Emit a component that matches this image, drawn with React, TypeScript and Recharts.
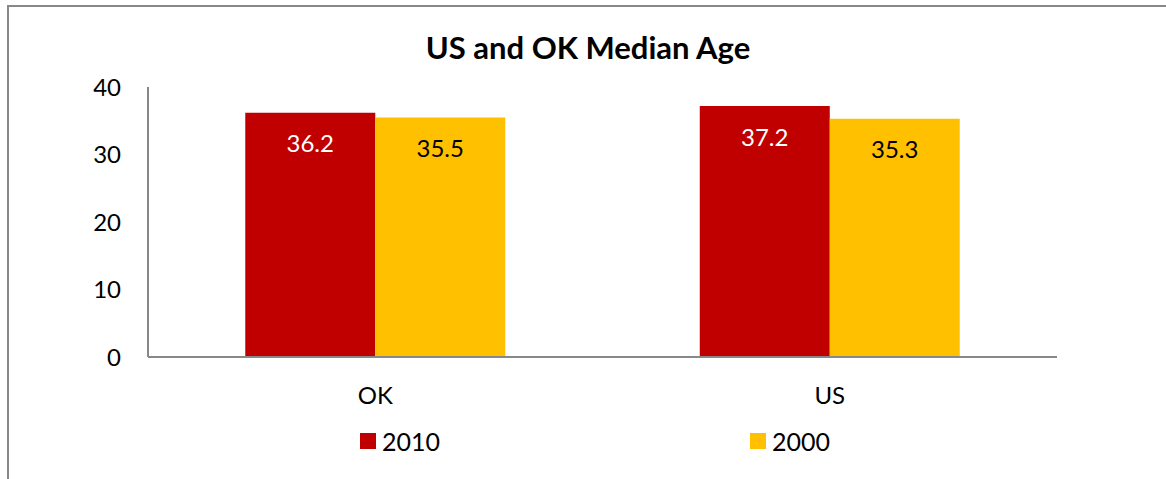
import React from 'react';
import { BarChart, Bar, XAxis, YAxis, LabelList } from 'recharts';

const categories = ['OK', 'US'];
const values2010 = [36.2, 37.2];
const values2000 = [35.5, 35.3];
const yTicks = [0, 10, 20, 30, 40];

const seriesList = [
  { key: 'y2010', name: '2010', color: '#C00000', labelColor: '#fff' },
  { key: 'y2000', name: '2000', color: '#FFC000', labelColor: '#000' },
];

const chartData = categories.map((name, i) => ({
  name,
  y2010: values2010[i],
  y2000: values2000[i],
}));

const FONT = 'Lato, "Open Sans", sans-serif';

const makeLabel = (fill: string) => (props: any) => {
  const { x, y, width, value } = props;
  return (
    <text
      x={x + width / 2}
      y={y + 31}
      dy="0.36em"
      textAnchor="middle"
      fill={fill}
      fontSize={24}
      fontFamily={FONT}
    >
      {value}
    </text>
  );
};

const App: React.FC = () => {
  return (
    <div style={{ position: 'absolute', left: 0, top: 0, width: 1166, height: 479, background: '#fff', overflow: 'hidden' }}>
      <div
        style={{
          position: 'absolute',
          left: 7,
          top: 5,
          width: 1166,
          height: 479,
          borderLeft: '2px solid #888',
          borderTop: '2px solid #888',
        }}
      />
      <div
        style={{
          position: 'absolute',
          left: 0,
          width: 1176,
          top: 30,
          textAlign: 'center',
          fontFamily: FONT,
          fontWeight: 700,
          fontSize: 31,
          lineHeight: '34px',
          color: '#000',
        }}
      >
        US and OK Median Age
      </div>
      <div style={{ position: 'absolute', left: 0, top: 0 }}>
        <BarChart
          width={1166}
          height={479}
          data={chartData}
          margin={{ top: 87, right: 109, bottom: 62, left: 0 }}
          barGap={0}
          barCategoryGap="21.4%"
        >
          <XAxis
            dataKey="name"
            axisLine={{ stroke: '#888', strokeWidth: 2 }}
            tickLine={false}
            tickSize={0}
            tickMargin={30}
            tick={{ fill: '#000', fontSize: 24, fontFamily: FONT }}
            height={60}
          />
          <YAxis
            domain={[0, 40]}
            ticks={yTicks}
            width={148}
            axisLine={{ stroke: '#888', strokeWidth: 2 }}
            tickLine={false}
            tickSize={0}
            tickMargin={27}
            tick={{ fill: '#000', fontSize: 24, fontFamily: FONT }}
          />
          {seriesList.map((s) => (
            <Bar key={s.key} dataKey={s.key} name={s.name} fill={s.color} isAnimationActive={false}>
              <LabelList dataKey={s.key} content={makeLabel(s.labelColor)} />
            </Bar>
          ))}
        </BarChart>
      </div>
      <div
        style={{
          position: 'absolute',
          left: 360,
          top: 426,
          display: 'flex',
          fontFamily: FONT,
          fontSize: 25,
          lineHeight: '30px',
          color: '#000',
        }}
      >
        {seriesList.map((s) => (
          <div key={s.key} style={{ width: 390, display: 'flex', alignItems: 'center' }}>
            <span style={{ width: 16, height: 16, background: s.color, marginRight: 6 }} />
            <span>{s.name}</span>
          </div>
        ))}
      </div>
    </div>
  );
};

export default App;
